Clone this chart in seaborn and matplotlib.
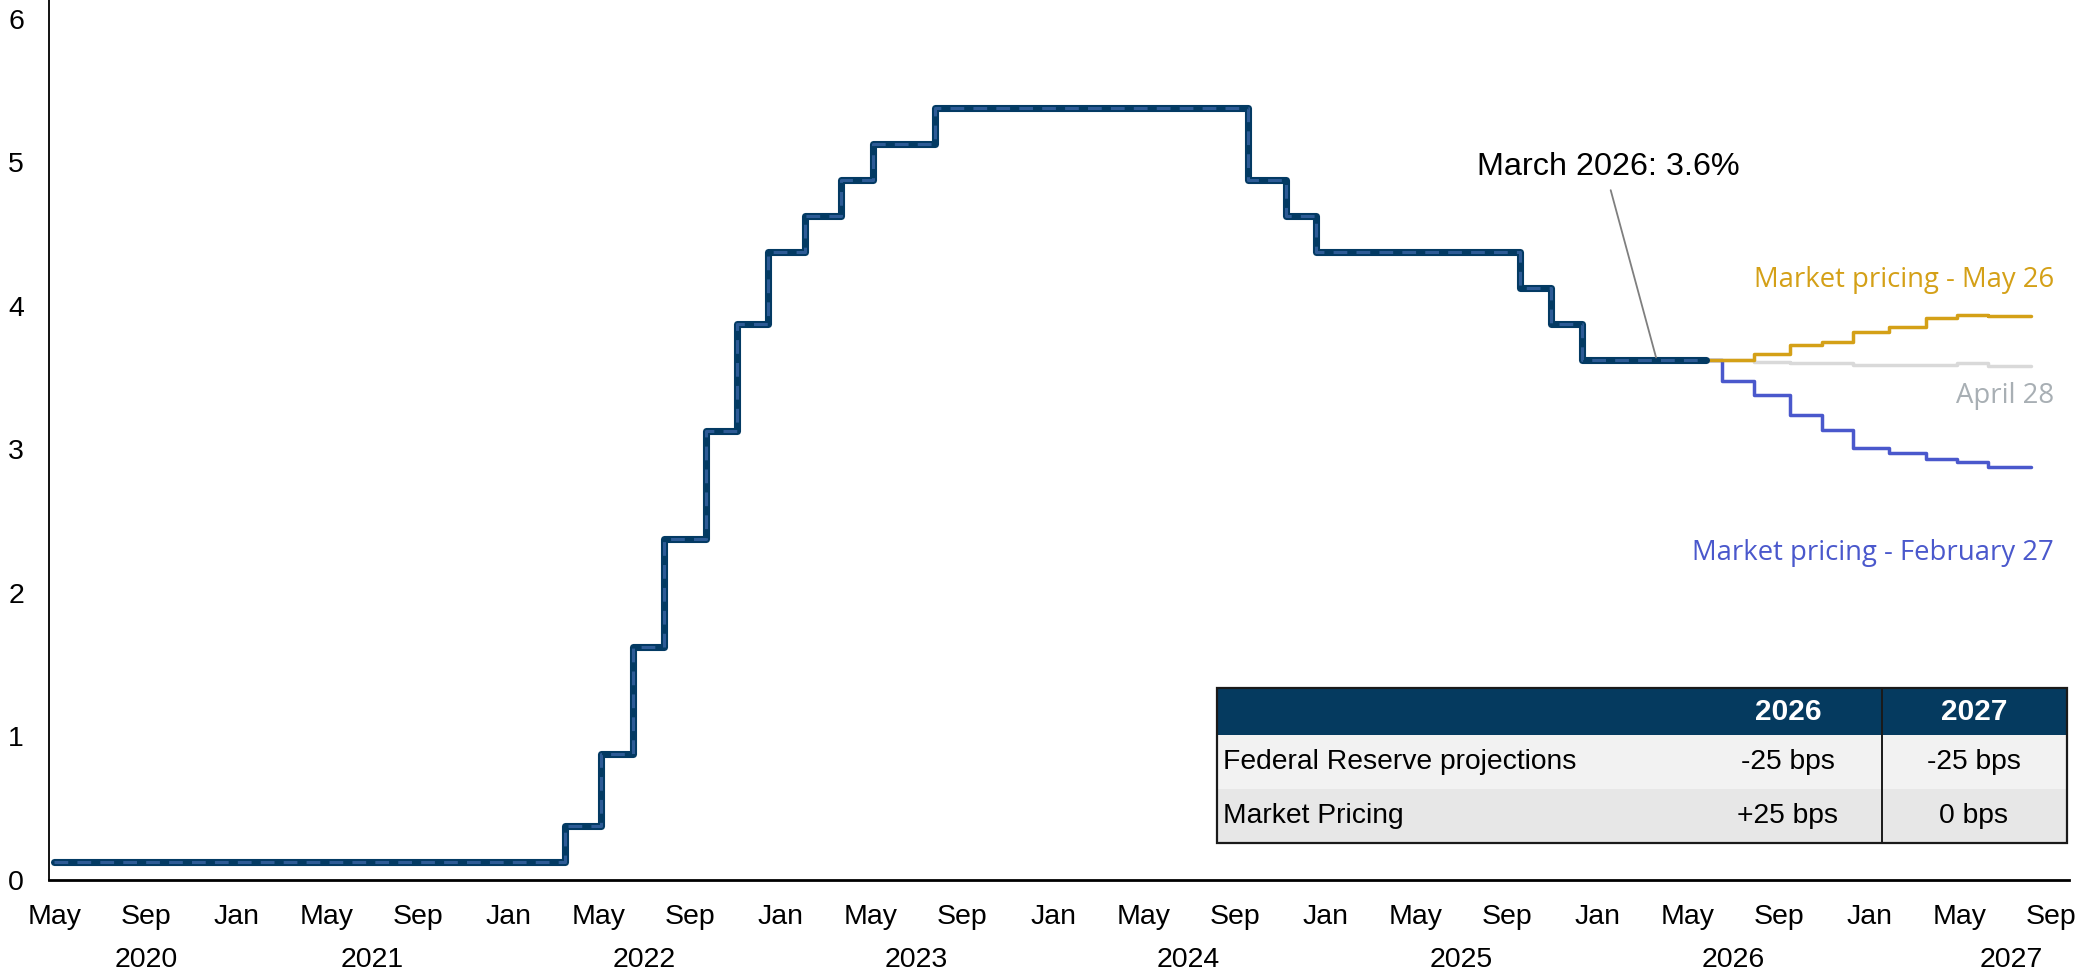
import pandas as pd
import numpy as np
import seaborn as sns
import matplotlib.pyplot as plt
import matplotlib.dates as mdates
import matplotlib.transforms as mtransforms
from matplotlib.patches import Rectangle

# Fed funds target midpoint (FOMC decision dates)
hist_dates = ['2020-05-01', '2022-03-17', '2022-05-05', '2022-06-16', '2022-07-28',
              '2022-09-22', '2022-11-03', '2022-12-15', '2023-02-02', '2023-03-23',
              '2023-05-04', '2023-07-27', '2024-09-19', '2024-11-08', '2024-12-19',
              '2025-09-18', '2025-10-30', '2025-12-11', '2026-05-26']
hist_rates = [0.125, 0.375, 0.875, 1.625, 2.375, 3.125, 3.875, 4.375, 4.625, 4.875,
              5.125, 5.375, 4.875, 4.625, 4.375, 4.125, 3.875, 3.625, 3.625]

# market implied path
fcst_dates = ['2026-05-26', '2026-06-17', '2026-07-29', '2026-09-16', '2026-10-28',
              '2026-12-09', '2027-01-27', '2027-03-17', '2027-04-28', '2027-06-09',
              '2027-08-05']
may26_rates = [3.625, 3.625, 3.665, 3.725, 3.75, 3.82, 3.85, 3.915, 3.935, 3.93, 3.93]
apr28_rates = [3.625, 3.625, 3.61, 3.60, 3.60, 3.585, 3.59, 3.59, 3.60, 3.58, 3.58]
feb27_rates = [3.625, 3.475, 3.38, 3.24, 3.135, 3.01, 2.975, 2.93, 2.915, 2.88, 2.88]

years = ['2020', '2021', '2022', '2023', '2024', '2025', '2026', '2027']
year_pos = ['2020-09-01', '2021-07-01', '2022-07-01', '2023-07-01', '2024-07-01',
            '2025-07-01', '2026-07-01', '2027-07-10']

tbl_cols = ['', '2026', '2027']
tbl_rows = ['Federal Reserve projections', 'Market Pricing']
tbl_2026 = ['-25 bps', '+25 bps']
tbl_2027 = ['-25 bps', '0 bps']

sns.set_style('white')
plt.rcParams['font.family'] = ['Liberation Sans', 'DejaVu Sans']
plt.rcParams['text.color'] = 'black'
plt.rcParams['xtick.color'] = 'black'
plt.rcParams['ytick.color'] = 'black'

fig = plt.figure(figsize=(20.83, 9.72), dpi=100)
ax = fig.add_axes([49 / 2083, 92 / 972, 2020 / 2083, 880 / 972])

hist = pd.DataFrame({'date': pd.to_datetime(hist_dates), 'rate': hist_rates})
fc = pd.DataFrame({'date': pd.to_datetime(fcst_dates), 'may26': may26_rates,
                   'apr28': apr28_rates, 'feb27': feb27_rates})

lw_f = 2.5
sns.lineplot(data=fc, x='date', y='apr28', drawstyle='steps-post', color='#D9D9D9',
             lw=lw_f, ax=ax, estimator=None, zorder=2)
sns.lineplot(data=fc, x='date', y='feb27', drawstyle='steps-post', color='#4A58CC',
             lw=lw_f, ax=ax, estimator=None, zorder=3)
sns.lineplot(data=fc, x='date', y='may26', drawstyle='steps-post', color='#D4A017',
             lw=lw_f, ax=ax, estimator=None, zorder=4)
sns.lineplot(data=hist, x='date', y='rate', drawstyle='steps-post', color='#033A63',
             lw=5.1, ax=ax, estimator=None, zorder=5, solid_joinstyle='round')
sns.lineplot(data=hist, x='date', y='rate', drawstyle='steps-post', color='#2D5B96',
             lw=2.2, ax=ax, estimator=None, zorder=6, linestyle=(0, (4.5, 3)))

ax.set_xlim(pd.Timestamp('2020-04-24'), pd.Timestamp('2027-09-25'))
ax.set_ylim(0, 6.13)

ticks = pd.date_range('2020-05-01', '2027-09-01', freq='4MS')
ax.set_xticks(ticks)
ax.set_xticklabels([d.strftime('%b') for d in ticks])
ax.set_yticks(range(7))
ax.tick_params(axis='x', length=0, pad=17, labelsize=20.5, labelcolor='black')
ax.tick_params(axis='y', length=0, pad=18, labelsize=20.5, labelcolor='black')
ax.set_xlabel('')
ax.set_ylabel('')
sns.despine(ax=ax)
ax.spines['left'].set_color('black')
ax.spines['left'].set_linewidth(1.3)
ax.spines['bottom'].set_color('black')
ax.spines['bottom'].set_linewidth(2)

trans = mtransforms.blended_transform_factory(ax.transData, ax.transAxes)
for yr, pos in zip(years, year_pos):
    ax.text(mdates.date2num(pd.Timestamp(pos)), -0.091, yr, transform=trans,
            ha='center', va='center', fontsize=20.5, color='black')

# line labels
xr = mdates.date2num(pd.Timestamp('2027-09-05'))
ax.text(xr, 4.18, 'Market pricing - May 26', color='#D4A017', ha='right', va='center',
        fontsize=19.8, family='Open Sans')
ax.text(xr, 3.37, 'April 28', color='#A8AFB4', ha='right', va='center',
        fontsize=19.8, family='Open Sans')
ax.text(xr, 2.28, 'Market pricing - February 27', color='#4A58CC', ha='right',
        va='center', fontsize=19.8, family='Open Sans')

ax.annotate('March 2026: 3.6%', xy=(mdates.date2num(pd.Timestamp('2026-03-20')), 3.64),
            xytext=(mdates.date2num(pd.Timestamp('2026-01-15')), 4.97),
            ha='center', va='center', fontsize=23.3, zorder=7, color='black',
            arrowprops=dict(arrowstyle='-', color='#7F7F7F', lw=1.3,
                            shrinkA=4, shrinkB=0, relpos=(0.5, 0)))

# projections table
tb = [0.5782, 0.042, 0.4208, 0.176]
cell_text = [[r, a, b] for r, a, b in zip(tbl_rows, tbl_2026, tbl_2027)]
tbl = ax.table(cellText=cell_text, colLabels=tbl_cols, cellLoc='center', bbox=tb,
               colWidths=[478 / 850, 186 / 850, 186 / 850])
tbl.auto_set_font_size(False)
row_bg = {0: '#053A5F', 1: '#F2F2F2', 2: '#E7E7E7'}
for (r, c), cell in tbl.get_celld().items():
    cell.set_facecolor(row_bg[r])
    cell.set_linewidth(0)
    cell.set_edgecolor(row_bg[r])
    if r == 0:
        cell.set_height(cell.get_height() * 47 / 54)
    t = cell.get_text()
    if r == 0:
        t.set_color('white')
        t.set_fontweight('bold')
        t.set_fontsize(21.5)
    else:
        t.set_color('black')
        t.set_fontsize(20.3)
    if c == 0:
        cell._loc = 'left'
        cell.PAD = 0.012
        t.set_ha('left')

ax.add_patch(Rectangle((tb[0], tb[1]), tb[2], tb[3], transform=ax.transAxes,
                       fill=False, edgecolor='#1A1A1A', lw=1.6, zorder=10,
                       clip_on=False))
xdiv = (1882 - 49) / 2020
ax.plot([xdiv, xdiv], [tb[1], tb[1] + tb[3]], transform=ax.transAxes,
        color='#1A1A1A', lw=1.4, zorder=10, clip_on=False)

fig.savefig('out.png', dpi=100)
